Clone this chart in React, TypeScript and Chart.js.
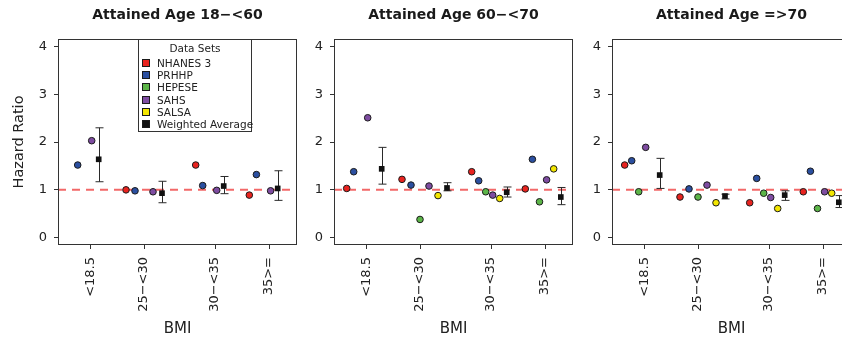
import React, { useEffect, useRef } from "react";
import { Chart, registerables } from "chart.js";

Chart.register(...registerables);

// ---------------- DATA ----------------
const categories = ["<18.5", "25−<30", "30−<35", "35>="];
const seriesNames = ["NHANES 3", "PRHHP", "HEPESE", "SAHS", "SALSA"];
const averageName = "Weighted Average";
const panelTitles = ["Attained Age 18−<60", "Attained Age 60−<70", "Attained Age =>70"];
const yTickValues = [0, 1, 2, 3, 4];
const referenceValue = 1;

// Panel 1: Attained Age 18−<60 (no SALSA)
const p1Nhanes = [null, 1.0, 1.52, 0.89];
const p1Prhhp = [1.52, 0.98, 1.09, 1.32];
const p1Hepese = [null, null, null, null];
const p1Sahs = [2.03, 0.96, 0.99, 0.98];
const p1Avg = [1.64, 0.93, 1.08, 1.03];
const p1Lo = [1.17, 0.73, 0.92, 0.78];
const p1Hi = [2.3, 1.18, 1.28, 1.4];

// Panel 2: Attained Age 60−<70
const p2Nhanes = [1.03, 1.22, 1.38, 1.02];
const p2Prhhp = [1.38, 1.1, 1.19, 1.64];
const p2Hepese = [null, 0.38, 0.96, 0.75];
const p2Sahs = [2.51, 1.08, 0.89, 1.21];
const p2Salsa = [null, 0.88, 0.82, 1.44];
const p2Avg = [1.44, 1.04, 0.95, 0.85];
const p2Lo = [1.12, 0.98, 0.85, 0.69];
const p2Hi = [1.89, 1.15, 1.06, 1.05];

// Panel 3: Attained Age =>70
const p3Nhanes = [1.52, 0.85, 0.73, 0.96];
const p3Prhhp = [1.61, 1.02, 1.24, 1.39];
const p3Hepese = [0.96, 0.85, 0.93, 0.61];
const p3Sahs = [1.89, 1.1, 0.84, 0.96];
const p3Salsa = [null, 0.73, 0.61, 0.93];
const p3Avg = [1.31, 0.87, 0.89, 0.74];
const p3Lo = [1.03, 0.81, 0.78, 0.63];
const p3Hi = [1.66, 0.91, 0.98, 0.88];

const panels = [
  { title: panelTitles[0], series: [p1Nhanes, p1Prhhp, p1Hepese, p1Sahs], avg: p1Avg, lo: p1Lo, hi: p1Hi },
  { title: panelTitles[1], series: [p2Nhanes, p2Prhhp, p2Hepese, p2Sahs, p2Salsa], avg: p2Avg, lo: p2Lo, hi: p2Hi },
  { title: panelTitles[2], series: [p3Nhanes, p3Prhhp, p3Hepese, p3Sahs, p3Salsa], avg: p3Avg, lo: p3Lo, hi: p3Hi },
];

// ---------------- STYLE / LAYOUT ----------------
const seriesColors = ["#E8231F", "#2B4FA0", "#5CB548", "#7E4CA1", "#F3E600"];
const averageColor = "#111111";
const FONT = '"DejaVu Sans", "Liberation Sans", sans-serif';
const TEXT = "#222222";
const AXIS = "#333333";

const PLOT_LEFTS = [58, 334, 612];
const AXIS_W = 58;
const PLOT_W = 239;
const CANVAS_W = 308;
const CANVAS_H = 345;
const PLOT_TOP = 39;
const PLOT_BOTTOM = 245;

// dodged x layout (axis units)
const X_MIN = 0;
const X_MAX = 239;
const TICK_POS = [32.7, 86, 157, 211];
const GROUP_START = [12.7, 68, 137.7, 191.3];
const GROUP_STEP = [7, 9, 7, 7.1];
const Y_MIN = -0.155;
const Y_MAX = 4.16;

const slotX = (group: number, slot: number) => GROUP_START[group] + slot * GROUP_STEP[group];

function makeChart(canvas: HTMLCanvasElement, panelIndex: number) {
  const panel = panels[panelIndex];
  const nSlots = panel.series.length;

  const datasets: any[] = panel.series.map((vals, si) => ({
    label: seriesNames[si],
    data: vals
      .map((v, gi) => (v == null ? null : { x: slotX(gi, si), y: v }))
      .filter((p) => p !== null),
    showLine: false,
    pointRadius: 3.3,
    pointBorderWidth: 1,
    pointBorderColor: "#1a1a1a",
    pointBackgroundColor: seriesColors[si],
    pointStyle: "circle",
  }));

  const avgPoints = panel.avg.map((v, gi) => ({ x: slotX(gi, nSlots), y: v }));
  datasets.push({
    label: averageName,
    data: avgPoints,
    showLine: false,
    pointRadius: 4,
    pointBorderWidth: 0,
    pointBackgroundColor: averageColor,
    pointBorderColor: averageColor,
    pointStyle: "rect",
  });

  const decor = {
    id: "decor" + panelIndex,
    beforeDatasetsDraw(chart: any) {
      const { ctx, chartArea, scales } = chart;
      const xs = scales.x;
      const ys = scales.y;
      ctx.save();
      // reference line
      const yRef = ys.getPixelForValue(referenceValue);
      ctx.strokeStyle = "#F26868";
      ctx.lineWidth = 2;
      ctx.setLineDash([8, 6]);
      ctx.beginPath();
      ctx.moveTo(chartArea.left, yRef);
      ctx.lineTo(chartArea.right, yRef);
      ctx.stroke();
      ctx.setLineDash([]);
      // error bars
      ctx.strokeStyle = "#2a2a2a";
      ctx.lineWidth = 1;
      avgPoints.forEach((p, gi) => {
        const x = Math.round(xs.getPixelForValue(p.x)) + 0.5;
        const yl = ys.getPixelForValue(panel.lo[gi]);
        const yh = ys.getPixelForValue(panel.hi[gi]);
        ctx.beginPath();
        ctx.moveTo(x, yl);
        ctx.lineTo(x, yh);
        ctx.moveTo(x - 4, yl);
        ctx.lineTo(x + 4, yl);
        ctx.moveTo(x - 4, yh);
        ctx.lineTo(x + 4, yh);
        ctx.stroke();
      });
      ctx.restore();
    },
    afterDraw(chart: any) {
      const { ctx, chartArea } = chart;
      ctx.save();
      ctx.strokeStyle = AXIS;
      ctx.lineWidth = 1;
      ctx.strokeRect(
        Math.round(chartArea.left) + 0.5,
        Math.round(chartArea.top) + 0.5,
        Math.round(chartArea.right - chartArea.left) - 1,
        Math.round(chartArea.bottom - chartArea.top) - 1
      );
      ctx.fillStyle = "#1a1a1a";
      ctx.font = "bold 14px " + FONT;
      ctx.textAlign = "center";
      ctx.textBaseline = "middle";
      ctx.fillText(panel.title, (chartArea.left + chartArea.right) / 2, 15);
      ctx.restore();
    },
  };

  return new Chart(canvas, {
    type: "scatter",
    data: { datasets },
    options: {
      responsive: false,
      maintainAspectRatio: false,
      animation: false,
      events: [],
      layout: {
        padding: { top: PLOT_TOP, left: 0, right: CANVAS_W - AXIS_W - PLOT_W, bottom: 0 },
      },
      plugins: {
        legend: { display: false },
        tooltip: { enabled: false },
        title: { display: false },
      },
      scales: {
        x: {
          type: "linear",
          position: "bottom",
          min: X_MIN,
          max: X_MAX,
          afterBuildTicks: (s: any) => {
            s.ticks = TICK_POS.map((v) => ({ value: v }));
          },
          afterFit: (s: any) => {
            s.height = CANVAS_H - PLOT_BOTTOM;
            s.paddingLeft = 0;
            s.paddingRight = 0;
          },
          ticks: {
            autoSkip: false,
            minRotation: 90,
            maxRotation: 90,
            padding: 8,
            color: TEXT,
            font: { family: FONT, size: 13 },
            callback: (_v: any, i: number) => categories[i],
          },
          grid: { drawOnChartArea: false, drawTicks: true, tickLength: 4, color: AXIS },
          border: { display: false },
          title: {
            display: true,
            text: "BMI",
            color: TEXT,
            font: { family: FONT, size: 15 },
            padding: { top: 0, bottom: 6.5 },
          },
        },
        y: {
          type: "linear",
          min: Y_MIN,
          max: Y_MAX,
          afterBuildTicks: (s: any) => {
            s.ticks = yTickValues.map((v) => ({ value: v }));
          },
          afterFit: (s: any) => {
            s.width = AXIS_W;
            s.paddingTop = 0;
            s.paddingBottom = 0;
          },
          ticks: {
            padding: 7,
            color: TEXT,
            font: { family: FONT, size: 13 },
            callback: (v: any) => String(v),
          },
          grid: { drawOnChartArea: false, drawTicks: true, tickLength: 4, color: AXIS },
          border: { display: false },
          title: {
            display: panelIndex === 0,
            text: "Hazard Ratio",
            color: TEXT,
            font: { family: FONT, size: 14.5 },
            padding: { top: 10.8, bottom: 0 },
          },
        },
      },
    } as any,
    plugins: [decor],
  });
}

function Panel({ index }: { index: number }) {
  const ref = useRef<HTMLCanvasElement | null>(null);
  useEffect(() => {
    if (!ref.current) return;
    const chart = makeChart(ref.current, index);
    return () => chart.destroy();
  }, [index]);
  return (
    <canvas
      ref={ref}
      width={CANVAS_W}
      height={CANVAS_H}
      style={{
        position: "absolute",
        left: PLOT_LEFTS[index] - AXIS_W,
        top: 0,
        width: CANVAS_W,
        height: CANVAS_H,
      }}
    />
  );
}

function Legend() {
  const entries = [...seriesNames.map((n, i) => ({ n, c: seriesColors[i] })), { n: averageName, c: averageColor }];
  return (
    <div
      style={{
        position: "absolute",
        left: 138,
        top: PLOT_TOP,
        width: 114,
        height: 93,
        boxSizing: "border-box",
        border: "1px solid " + AXIS,
        background: "#ffffff",
        fontFamily: FONT,
        fontSize: 10.5,
        color: TEXT,
        lineHeight: "12.2px",
      }}
    >
      <div style={{ position: "absolute", left: 0, right: 0, top: 2, textAlign: "center" }}>Data Sets</div>
      {entries.map((e, i) => (
        <div
          key={e.n}
          style={{ position: "absolute", left: 3, top: 17 + i * 12.2, whiteSpace: "nowrap", display: "flex", alignItems: "center" }}
        >
          <span
            style={{
              display: "inline-block",
              width: 6,
              height: 6,
              background: e.c,
              border: "1px solid #1a1a1a",
              marginRight: 7,
            }}
          />
          <span>{e.n}</span>
        </div>
      ))}
    </div>
  );
}

export default function App() {
  return (
    <div
      style={{
        position: "absolute",
        left: 0,
        top: 0,
        width: 842,
        height: 345,
        overflow: "hidden",
        background: "#ffffff",
      }}
    >
      <Panel index={0} />
      <Panel index={1} />
      <Panel index={2} />
      <Legend />
    </div>
  );
}
